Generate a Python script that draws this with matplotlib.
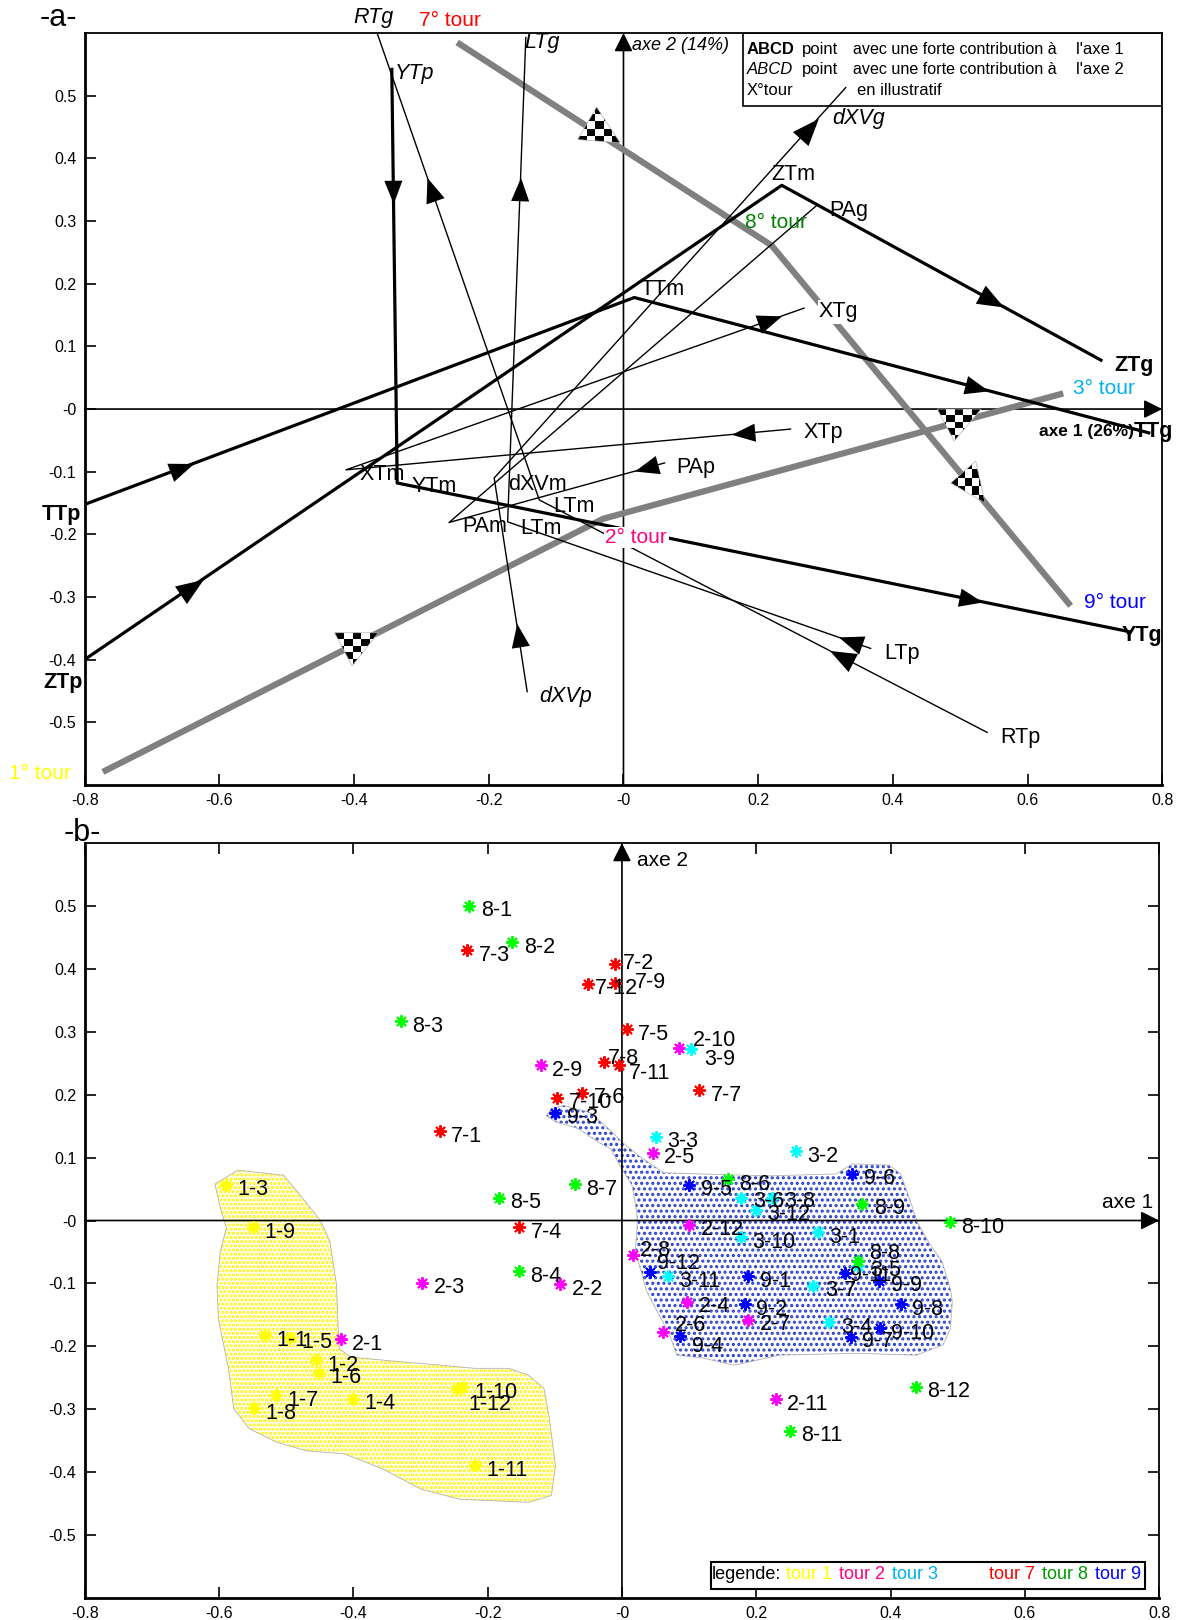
import numpy as np
import matplotlib.pyplot as plt
from matplotlib.patches import Polygon, Rectangle
from matplotlib.path import Path

plt.rcParams['font.family'] = ['Liberation Sans', 'DejaVu Sans']

# ---------------- panel a : modality trajectories (p -> m -> g)
TT_x = [-0.839, 0.016, 0.78]
TT_y = [-0.168, 0.178, -0.038]
ZT_x = [-0.836, 0.235, 0.709]
ZT_y = [-0.426, 0.357, 0.078]
YT_x = [-0.344, -0.336, 0.75]
YT_y = [0.542, -0.118, -0.355]
RT_x = [0.54, -0.125, -0.369]
RT_y = [-0.516, -0.145, 0.61]
LT_x = [0.367, -0.172, -0.145]
LT_y = [-0.382, -0.18, 0.593]
dXV_x = [-0.143, -0.192, 0.33]
dXV_y = [-0.451, -0.11, 0.513]
PA_x = [0.061, -0.259, 0.287]
PA_y = [-0.086, -0.181, 0.325]
XT_x = [0.248, -0.412, 0.268]
XT_y = [-0.032, -0.097, 0.161]

# laps used as illustrative points
tourA_x = [-0.247, 0.22, 0.664]
tourA_y = [0.585, 0.261, -0.314]
tourB_x = [-0.773, -0.03, 0.653]
tourB_y = [-0.579, -0.175, 0.025]

# ---------------- panel b : individual laps
t1_lab = ['1-1', '1-2', '1-3', '1-4', '1-5', '1-6', '1-7', '1-8', '1-9', '1-10', '1-11', '1-12']
t1_x = [-0.532, -0.455, -0.589, -0.4, -0.495, -0.451, -0.515, -0.548, -0.55, -0.237, -0.219, -0.246]
t1_y = [-0.182, -0.222, 0.057, -0.283, -0.186, -0.242, -0.278, -0.298, -0.011, -0.265, -0.389, -0.268]
t2_lab = ['2-1', '2-2', '2-3', '2-4', '2-5', '2-6', '2-7', '2-8', '2-9', '2-10', '2-11', '2-12']
t2_x = [-0.419, -0.092, -0.297, 0.097, 0.046, 0.061, 0.188, 0.016, -0.121, 0.085, 0.229, 0.1]
t2_y = [-0.189, -0.101, -0.099, -0.129, 0.108, -0.177, -0.158, -0.055, 0.247, 0.274, -0.284, -0.007]
t3_lab = ['3-1', '3-2', '3-3', '3-4', '3-5', '3-6', '3-7', '3-8', '3-9', '3-10', '3-11', '3-12']
t3_x = [0.292, 0.259, 0.05, 0.309, 0.352, 0.177, 0.285, 0.224, 0.103, 0.177, 0.069, 0.199]
t3_y = [-0.019, 0.11, 0.133, -0.162, -0.072, 0.035, -0.104, 0.035, 0.272, -0.027, -0.089, 0.017]
t7_lab = ['7-1', '7-2', '7-3', '7-4', '7-5', '7-6', '7-7', '7-8', '7-9', '7-10', '7-11', '7-12']
t7_x = [-0.271, -0.01, -0.23, -0.153, 0.007, -0.059, 0.115, -0.027, -0.01, -0.096, -0.004, -0.051]
t7_y = [0.142, 0.408, 0.43, -0.011, 0.304, 0.203, 0.207, 0.252, 0.378, 0.195, 0.247, 0.376]
t8_lab = ['8-1', '8-2', '8-3', '8-4', '8-5', '8-6', '8-7', '8-8', '8-9', '8-10', '8-11', '8-12']
t8_x = [-0.227, -0.163, -0.329, -0.153, -0.183, 0.158, -0.07, 0.351, 0.358, 0.488, 0.25, 0.438]
t8_y = [0.5, 0.442, 0.317, -0.081, 0.036, 0.066, 0.058, -0.065, 0.027, -0.003, -0.334, -0.264]
t9_lab = ['9-1', '9-2', '9-3', '9-4', '9-5', '9-6', '9-7', '9-8', '9-9', '9-10', '9-11', '9-12']
t9_x = [0.188, 0.183, -0.099, 0.086, 0.1, 0.343, 0.341, 0.415, 0.383, 0.384, 0.332, 0.042]
t9_y = [-0.089, -0.133, 0.171, -0.184, 0.057, 0.074, -0.185, -0.133, -0.096, -0.171, -0.084, -0.082]

# outlines of the two groups
zone1 = [(-0.572, 0.080), (-0.504, 0.072), (-0.475, 0.035), (-0.449, 0.0), (-0.435, -0.033),
         (-0.425, -0.103), (-0.423, -0.161), (-0.421, -0.204), (-0.404, -0.217), (-0.356, -0.222),
         (-0.27, -0.23), (-0.219, -0.235), (-0.168, -0.235), (-0.139, -0.246), (-0.116, -0.267),
         (-0.108, -0.315), (-0.099, -0.39), (-0.105, -0.437), (-0.139, -0.448), (-0.242, -0.443),
         (-0.299, -0.427), (-0.356, -0.395), (-0.413, -0.371), (-0.470, -0.366), (-0.515, -0.352),
         (-0.555, -0.331), (-0.578, -0.299), (-0.586, -0.235), (-0.601, -0.156), (-0.603, -0.103),
         (-0.598, -0.049), (-0.589, -0.012), (-0.598, 0.02), (-0.606, 0.058)]
zone9 = [(-0.113, 0.167), (-0.104, 0.178), (-0.087, 0.183), (-0.048, 0.172), (-0.02, 0.146),
         (0.0, 0.125), (0.025, 0.103), (0.062, 0.076), (0.116, 0.074), (0.22, 0.071), (0.319, 0.074),
         (0.343, 0.09), (0.398, 0.088), (0.415, 0.074), (0.43, 0.029), (0.44, -0.003), (0.457, -0.035),
         (0.477, -0.066), (0.489, -0.109), (0.492, -0.129), (0.489, -0.172), (0.478, -0.198),
         (0.438, -0.214), (0.348, -0.211), (0.235, -0.214), (0.167, -0.23), (0.122, -0.219),
         (0.082, -0.214), (0.071, -0.182), (0.037, -0.113), (0.02, -0.049), (0.023, -0.002),
         (0.022, 0.013), (0.015, 0.056), (0.0, 0.082), (-0.017, 0.114), (-0.036, 0.125),
         (-0.065, 0.146), (-0.099, 0.157)]

fig = plt.figure(figsize=(11.86, 16.2), dpi=100)
axA = fig.add_axes([0.0714, 0.5154, 0.9086, 0.4642])
axB = fig.add_axes([0.0714, 0.0136, 0.906, 0.466])


def setup(ax, allsides):
    ax.set_xlim(-0.8, 0.8)
    ax.set_ylim(-0.6, 0.6)
    ax.set_xticks(np.arange(-0.8, 0.81, 0.2))
    ax.set_yticks(np.arange(-0.5, 0.51, 0.1))
    ax.set_xticklabels(['%g' % round(v, 1) for v in np.arange(-0.8, 0.81, 0.2)])
    ax.set_yticklabels(['%g' % round(v, 1) for v in np.arange(-0.5, 0.51, 0.1)])
    ax.tick_params(direction='in', length=8, width=1.2, labelsize=11.5, pad=6,
                   top=allsides, right=allsides)
    for s in ax.spines.values():
        s.set_linewidth(1.3)
    ax.spines['left'].set_linewidth(2)
    ax.spines['bottom'].set_linewidth(2)
    # origin axes with arrowheads
    ax.annotate('', xy=(0.8, 0), xytext=(-0.8, 0),
                arrowprops=dict(arrowstyle='-|>', mutation_scale=28, lw=1.2, color='k',
                                shrinkA=0, shrinkB=0), zorder=2)
    ax.annotate('', xy=(0, 0.6), xytext=(0, -0.6),
                arrowprops=dict(arrowstyle='-|>', mutation_scale=28, lw=1.2, color='k',
                                shrinkA=0, shrinkB=0), zorder=2)


setup(axA, False)
setup(axB, True)


def arrowhead(ax, xs, ys, seg, frac, size=21):
    x0, y0, x1, y1 = xs[seg], ys[seg], xs[seg + 1], ys[seg + 1]
    px, py = x0 + frac * (x1 - x0), y0 + frac * (y1 - y0)
    d0 = ax.transData.transform((x0, y0))
    d1 = ax.transData.transform((x1, y1))
    a = np.arctan2(d1[1] - d0[1], d1[0] - d0[0])
    tri = np.array([[1.0, 0], [-0.6, 0.62], [-0.6, -0.62], [1.0, 0]])
    rot = np.array([[np.cos(a), -np.sin(a)], [np.sin(a), np.cos(a)]])
    ax.plot(px, py, marker=Path(tri @ rot.T), ms=size, color='k', mew=0, zorder=5)


# bold trajectories
for xs, ys, arr in [(TT_x, TT_y, [(0, 0.21), (1, 0.66)]),
                    (ZT_x, ZT_y, [(0, 0.178), (1, 0.65)]),
                    (YT_x, YT_y, [(0, 0.29), (1, 0.78)])]:
    axA.plot(xs, ys, color='k', lw=2.3, zorder=3)
    for seg, f in arr:
        arrowhead(axA, xs, ys, seg, f)

# thin trajectories
for xs, ys, arr in [(RT_x, RT_y, [(0, 0.32), (1, 0.65)]),
                    (LT_x, LT_y, [(0, 0.05), (1, 0.68)]),
                    (dXV_x, dXV_y, [(0, 0.25), (1, 0.89)]),
                    (PA_x, PA_y, [(0, 0.07)]),
                    (XT_x, XT_y, [(0, 0.1), (1, 0.92)])]:
    axA.plot(xs, ys, color='k', lw=1.0, zorder=3)
    for seg, f in arr:
        arrowhead(axA, xs, ys, seg, f)

# illustrative laps
axA.plot(tourA_x, tourA_y, color='#808080', lw=4.5, solid_capstyle='butt', zorder=2.5)
axA.plot(tourB_x, tourB_y, color='#808080', lw=4.5, solid_capstyle='butt', zorder=2.5)


def flag(ax, verts):
    verts = np.array(verts)
    tri = Polygon(verts, closed=True, fc='none', ec='0.7', lw=0.5, zorder=7)
    ax.add_patch(tri)
    n = 5
    board = np.add.outer(np.arange(n), np.arange(n)) % 2
    (x0, y0), (x1, y1) = verts.min(0), verts.max(0)
    im = ax.imshow(board, cmap='gray', extent=(x0, x1, y0, y1), interpolation='nearest',
                   aspect='auto', zorder=6)
    im.set_clip_path(tri)


flag(axA, [(-0.068, 0.43), (-0.04, 0.482), (-0.005, 0.425)])
flag(axA, [(-0.429, -0.357), (-0.364, -0.357), (-0.403, -0.41)])
flag(axA, [(0.466, 0.0), (0.531, 0.0), (0.491, -0.051)])
flag(axA, [(0.523, -0.083), (0.486, -0.118), (0.537, -0.15)])
axA.set_xlim(-0.8, 0.8)
axA.set_ylim(-0.6, 0.6)

fs = 15.5
it = dict(fontsize=fs, style='italic', va='center', ha='left')
nm = dict(fontsize=fs, va='center', ha='left')
bd = dict(fontsize=fs, weight='bold', va='center', ha='left')
axA.text(-0.371, 0.625, 'RTg', ha='center', fontsize=fs, style='italic', va='center', clip_on=False)
axA.text(-0.257, 0.62, '7° tour', ha='center', va='center', fontsize=15, color='#FF0000', clip_on=False)
axA.text(-0.147, 0.585, 'LTg', **it)
axA.text(-0.34, 0.535, 'YTp', **it)
axA.text(0.013, 0.58, 'axe 2 (14%)', fontsize=13, style='italic', va='center')
axA.text(0.31, 0.463, 'dXVg', **it)
axA.text(0.22, 0.375, 'ZTm', **nm)
axA.text(0.305, 0.317, 'PAg', **nm)
axA.text(0.18, 0.298, '8° tour', fontsize=15, color='#008000', va='center')
axA.text(0.025, 0.19, 'TTm', **nm)
axA.text(0.29, 0.155, 'XTg', bbox=dict(fc='white', ec='none', pad=1), zorder=4, **nm)
axA.text(0.729, 0.069, 'ZTg', **bd)
axA.text(0.667, 0.033, '3° tour', fontsize=15, color='#00B0F0', va='center')
axA.text(0.758, -0.036, 'axe 1 (26%)', fontsize=12.5, weight='bold', va='center', ha='right')
axA.text(0.758, -0.036, 'TTg', clip_on=False, **bd)
axA.text(0.268, -0.038, 'XTp', **nm)
axA.text(0.078, -0.094, 'PAp', **nm)
axA.text(-0.392, -0.105, 'XTm', **nm)
axA.text(-0.315, -0.124, 'YTm', **nm)
axA.text(-0.172, -0.12, 'dXVm', **nm)
axA.text(-0.105, -0.155, 'LTm', **nm)
axA.text(-0.24, -0.188, 'PAm', **nm)
axA.text(-0.154, -0.19, 'LTm', **nm)
axA.text(-0.864, -0.168, 'TTp', clip_on=False, **bd)
axA.text(-0.027, -0.205, '2° tour', fontsize=15, color='#FF0080', va='center',
         bbox=dict(fc='white', ec='none', pad=1), zorder=4)
axA.text(-0.861, -0.436, 'ZTp', clip_on=False, **bd)
axA.text(0.684, -0.309, '9° tour', fontsize=15, color='#0000FF', va='center')
axA.text(0.74, -0.362, 'YTg', **bd)
axA.text(0.387, -0.39, 'LTp', **nm)
axA.text(-0.125, -0.459, 'dXVp', **it)
axA.text(0.56, -0.524, 'RTp', **nm)
axA.text(-0.913, -0.581, '1° tour', fontsize=15, color='#FFFF00', va='center', clip_on=False)

# key box
axA.add_patch(Rectangle((0.178, 0.484), 0.622, 0.116, fc='white', ec='k', lw=1.2, zorder=1))
lf = 12
axA.text(0.183, 0.574, 'ABCD', fontsize=lf, weight='bold', va='center')
axA.text(0.183, 0.542, 'ABCD', fontsize=lf, style='italic', va='center')
axA.text(0.183, 0.509, 'X°tour', fontsize=lf, va='center')
for yy, n in [(0.574, '1'), (0.542, '2')]:
    axA.text(0.265, yy, 'point', fontsize=lf, va='center')
    axA.text(0.341, yy, 'avec une forte contribution à', fontsize=11.6, va='center')
    axA.text(0.672, yy, "l'axe " + n, fontsize=lf, va='center')
axA.text(0.347, 0.509, 'en illustratif', fontsize=lf, va='center')

# ---------------- panel b
plt.rcParams['hatch.linewidth'] = 1.6
zy = Polygon(zone1, closed=True, fc='white', ec='#FFF200', lw=0, hatch='....', zorder=1)
axB.add_patch(zy)
axB.add_patch(Polygon(zone1, closed=True, fc='none', ec='0.7', lw=0.6, zorder=1.1))
plt.rcParams['hatch.linewidth'] = 1.5
zb = Polygon(zone9, closed=True, fc='white', ec='#2B3FD0', lw=0, hatch='...', zorder=1)
axB.add_patch(zb)
axB.add_patch(Polygon(zone9, closed=True, fc='none', ec='0.7', lw=0.6, zorder=1.1))

offsets = {'2-10': (0.02, 0.012), '3-9': (0.02, -0.016), '7-8': (0.006, 0.006),
           '7-11': (0.015, -0.014), '7-12': (0.01, -0.008), '7-9': (0.03, 0.0),
           '1-12': (0.017, -0.025), '8-8': (0.017, 0.012), '9-11': (0.007, -0.004),
           '9-12': (0.01, 0.013), '2-8': (0.01, 0.007), '2-6': (0.018, 0.01),
           '9-4': (0.018, -0.016), '7-2': (0.012, 0.0), '3-6': (0.018, -0.004),
           '3-8': (0.018, -0.004)}
groups = [(t1_lab, t1_x, t1_y, '#FFFF00'), (t2_lab, t2_x, t2_y, '#FF00FF'),
          (t3_lab, t3_x, t3_y, '#00FFFF'), (t7_lab, t7_x, t7_y, '#FF0000'),
          (t8_lab, t8_x, t8_y, '#00FF00'), (t9_lab, t9_x, t9_y, '#0000FF')]
for labs, xs, ys, c in groups:
    axB.plot(xs, ys, ls='none', marker=(8, 2, 0), ms=9, mew=1.4, color=c, zorder=3)
    for lab, x, y in zip(labs, xs, ys):
        dx, dy = offsets.get(lab, (0.017, -0.008))
        axB.text(x + dx, y + dy, lab, fontsize=15.5, va='center', ha='left', zorder=4)

axB.text(0.023, 0.573, 'axe 2', fontsize=15, va='center')
axB.text(0.715, 0.029, 'axe 1', fontsize=15, va='center')

axB.add_patch(Rectangle((0.132, -0.585), 0.647, 0.042, fc='white', ec='k', lw=1.5, zorder=5))
for x, t, c in [(0.134, 'legende:', 'k'), (0.245, 'tour 1', '#FFFF00'), (0.323, 'tour 2', '#FF0080'),
                (0.402, 'tour 3', '#00B0F0'), (0.547, 'tour 7', '#FF0000'),
                (0.625, 'tour 8', '#009900'), (0.704, 'tour 9', '#0000FF')]:
    axB.text(x, -0.563, t, color=c, fontsize=13, va='center', zorder=6)

fig.text(0.033, 0.989, '-a-', fontsize=22, va='center')
fig.text(0.054, 0.486, '-b-', fontsize=22, va='center')

fig.savefig('out.png', dpi=100)
